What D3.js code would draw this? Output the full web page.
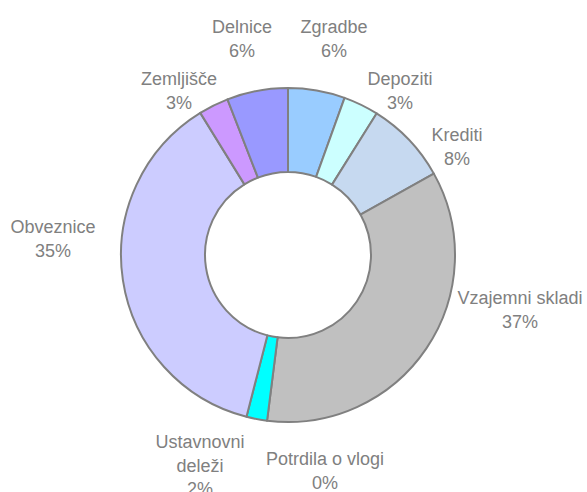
<!DOCTYPE html>
<html>
<head>
<meta charset="utf-8">
<script src="https://cdn.jsdelivr.net/npm/d3@7"></script>
<style>
html,body{margin:0;padding:0;background:#fff;}
svg{display:block;}
text{font-family:"Liberation Sans",Arial,sans-serif;}
</style>
</head>
<body>
<svg id="chart" width="587" height="492"></svg>
<script>
// Data (clockwise from 12 o'clock)
const categories = ["Zgradbe","Depoziti","Krediti","Vzajemni skladi","Potrdila o vlogi","Ustavnovni deleži","Obveznice","Zemljišče","Delnice"];
const values = [5.5, 3.4, 8.0, 35.1, 0.0, 2.0, 37.2, 2.9, 5.9];
const percentLabels = ["6%","3%","8%","37%","0%","2%","35%","3%","6%"];
const colors = ["#99CCFF","#CCFFFF","#C6D9F0","#C0C0C0","#FFFFFF","#00FFFF","#CCCCFF","#CC99FF","#9999FF"];

// Layout
const W = 587, H = 492;
const cx = 288, cy = 255, R = 167, r = 83;
const labelLines = [["Zgradbe"],["Depoziti"],["Krediti"],["Vzajemni skladi"],["Potrdila o vlogi"],["Ustavnovni","deleži"],["Obveznice"],["Zemljišče"],["Delnice"]];
const labelPos = [[334,33],[400,85],[457,141],[520,304],[325,465],[200,448],[53,233],[179,85],[242,33]];

const svg = d3.select("#chart");
const g = svg.append("g").attr("transform", `translate(${cx},${cy})`);

const pie = d3.pie().sort(null).value(d => d).startAngle(0).endAngle(2*Math.PI);
const arc = d3.arc().innerRadius(r).outerRadius(R);
const arcs = pie(values);

g.selectAll("path.slice")
  .data(arcs.filter(d => d.data > 0))
  .join("path")
  .attr("class","slice")
  .attr("d", arc)
  .attr("fill", d => colors[d.index])
  .attr("stroke", "#808080")
  .attr("stroke-width", 2)
  .attr("stroke-linejoin","round");

const lab = svg.append("g");
categories.forEach((c, i) => {
  const lines = labelLines[i].concat([percentLabels[i]]);
  const t = lab.append("text")
    .attr("x", labelPos[i][0])
    .attr("y", labelPos[i][1])
    .attr("text-anchor","middle")
    .attr("fill","#808080")
    .attr("font-size", 18);
  lines.forEach((ln, k) => {
    t.append("tspan").attr("x", labelPos[i][0]).attr("dy", k === 0 ? 0 : 23.5).text(ln);
  });
});
</script>
</body>
</html>
